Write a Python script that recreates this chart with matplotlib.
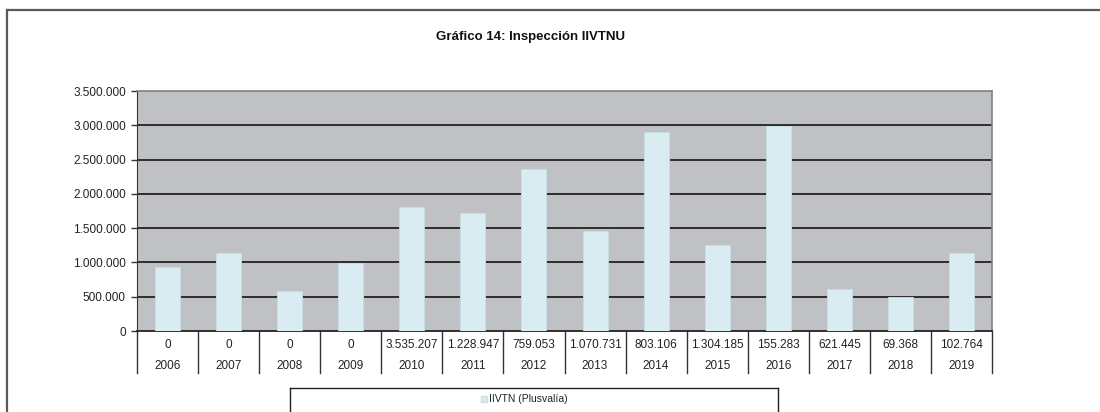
import matplotlib
matplotlib.use("Agg")
import matplotlib.pyplot as plt
from matplotlib.ticker import FuncFormatter
from matplotlib.lines import Line2D
import numpy as np

plt.rcParams['font.family'] = ['Liberation Sans', 'DejaVu Sans']

# datos del gráfico
anios = ['2006', '2007', '2008', '2009', '2010', '2011', '2012',
         '2013', '2014', '2015', '2016', '2017', '2018', '2019']
plusvalia = [932000, 1131000, 580000, 985000, 1809000, 1722000, 2356000,
             1455000, 2898000, 1252000, 2985000, 607000, 492000, 1135000]
tabla_valores = ['0', '0', '0', '0', '3.535.207', '1.228.947', '759.053',
                 '1.070.731', '803.106', '1.304.185', '155.283', '621.445',
                 '69.368', '102.764']
serie = 'IIVTN (Plusvalía)'
titulo = 'Gráfico 14: Inspección IIVTNU'

W, H = 1100, 412
fig = plt.figure(figsize=(W / 100, H / 100), dpi=100)
fig.patch.set_facecolor('white')

# zona de trazado en píxeles
x0, x1, y_top, y_bot = 137, 992, 91, 331
ax = fig.add_axes([x0 / W, 1 - y_bot / H, (x1 - x0) / W, (y_bot - y_top) / H])
ax.set_facecolor('#c0c1c5')

x = np.arange(len(anios))
ax.bar(x, plusvalia, width=0.41, color='#d9ecf2', edgecolor='#c9dfe7',
       linewidth=0.6, zorder=3)

ax.set_xlim(-0.5, len(anios) - 0.5)
ax.set_ylim(0, 3500000)
ax.set_yticks(np.arange(0, 3500001, 500000))
ax.yaxis.set_major_formatter(
    FuncFormatter(lambda v, p: f'{int(v):,}'.replace(',', '.')))
ax.tick_params(axis='y', length=4, width=1, color='#333333', pad=4,
               labelsize=8.5, labelcolor='#222222')
ax.set_xticks([])

for v in np.arange(500000, 3500000, 500000):
    ax.axhline(v, color='#222222', linewidth=1.3, zorder=2)

for lado in ['top', 'right']:
    ax.spines[lado].set_color('#808080')
    ax.spines[lado].set_linewidth(1.2)
ax.spines['left'].set_color('#333333')
ax.spines['bottom'].set_color('#222222')
ax.spines['bottom'].set_linewidth(1.3)

# tabla de datos bajo el eje
alto = y_bot - y_top
fila1 = -(345 - y_bot) / alto
fila2 = -(366 - y_bot) / alto
fondo = -(373 - y_bot) / alto
trans = ax.get_xaxis_transform()
for i, (a, t) in enumerate(zip(anios, tabla_valores)):
    ax.text(i, fila1, t, transform=trans, ha='center', va='center',
            fontsize=8.5, color='#222222')
    ax.text(i, fila2, a, transform=trans, ha='center', va='center',
            fontsize=8.5, color='#222222')
for b in np.arange(-0.5, len(anios), 1.0):
    ax.add_line(Line2D([b, b], [0, fondo], transform=trans, color='#333333',
                       linewidth=1, clip_on=False))

fig.text(530 / W, 1 - 37 / H, titulo, ha='center', va='center',
         fontsize=9.5, fontweight='bold', color='#111111')

# marco exterior del gráfico
fig.add_artist(Line2D([7 / W, 1], [1 - 10 / H, 1 - 10 / H],
                      color='#5a5a5a', linewidth=1.6))
fig.add_artist(Line2D([7 / W, 7 / W], [0, 1 - 10 / H],
                      color='#5a5a5a', linewidth=1.6))

# leyenda
lx0, lx1, ly = 290 / W, 778 / W, 1 - 388 / H
fig.add_artist(Line2D([lx0, lx1], [ly, ly], color='#222222', linewidth=1))
fig.add_artist(Line2D([lx0, lx0], [0, ly], color='#222222', linewidth=1))
fig.add_artist(Line2D([lx1, lx1], [0, ly], color='#222222', linewidth=1))
fig.add_artist(Line2D([484 / W], [1 - 399 / H], marker='s', markersize=5,
                      color='#d9ecf2', markeredgecolor='#c9dfe7',
                      linestyle='none'))
fig.text(489 / W, 1 - 399 / H, serie, ha='left', va='center',
         fontsize=7.5, color='#222222')

fig.savefig('out.png', dpi=100)
